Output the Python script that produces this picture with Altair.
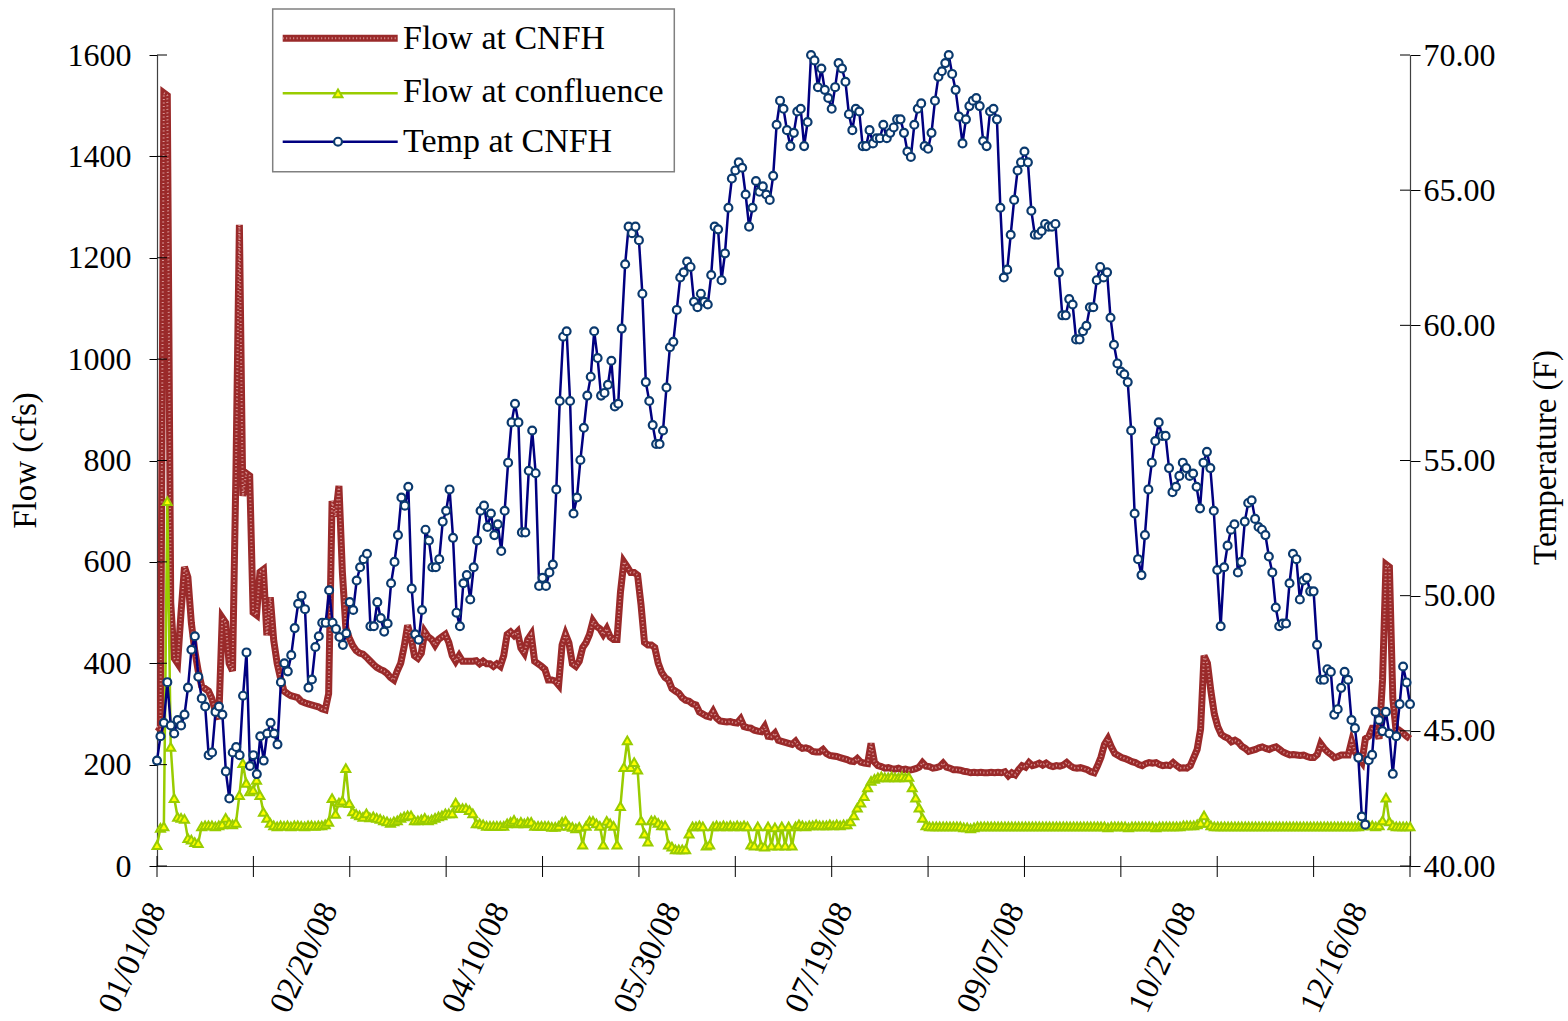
import altair as alt
import pandas as pd

# ---------------- data ----------------
flow_cnfh = [
    275, 270, 1525, 1520, 520, 410, 400, 500, 590, 570,
    480, 425, 385, 355, 350, 345, 330, 305, 290, 490,
    480, 400, 385, 780, 1265, 730, 775, 770, 500, 495,
    580, 585, 455, 530, 445, 400, 370, 345, 340, 336,
    334, 332, 325, 322, 320, 318, 316, 314, 310, 308,
    340, 720, 690, 750, 580, 470, 450, 435, 425, 420,
    418, 412, 405, 398, 392, 388, 385, 380, 372, 367,
    385, 400, 433, 475, 450, 415, 410, 420, 462, 452,
    447, 436, 447, 452, 457, 441, 415, 404, 415, 404,
    404, 404, 404, 405, 399, 404, 399, 399, 394, 399,
    394, 415, 457, 462, 455, 462, 430, 420, 447, 457,
    404, 399, 394, 388, 367, 367, 365, 357, 436, 457,
    440, 399, 394, 404, 431, 441, 457, 483, 473, 468,
    457, 468, 452, 447, 447, 540, 600, 590, 579, 579,
    574, 515, 441, 436, 436, 431, 400, 382, 372, 367,
    350, 345, 341, 332, 327, 325, 320, 318, 304, 300,
    296, 294, 305, 292, 286, 285, 284, 285, 283, 282,
    290, 275, 273, 272, 268, 266, 265, 275, 256, 255,
    262, 248, 246, 244, 242, 240, 246, 236, 232, 233,
    231, 226, 225, 225, 230, 222, 218, 217, 216, 214,
    212, 210, 207, 206, 212, 205, 203, 202, 242, 205,
    198, 196, 193, 194, 192, 191, 193, 190, 191, 189,
    190, 192, 195, 204, 197, 196, 193, 194, 196, 203,
    195, 193, 190, 190, 189, 187, 186, 184, 185, 184,
    185, 184, 184, 185, 184, 185, 184, 186, 178, 184,
    180, 190, 198, 195, 204, 198, 200, 203, 199, 203,
    198, 196, 198, 197, 199, 204, 198, 194, 193, 194,
    192, 190, 186, 184, 198, 215, 240, 251, 235, 222,
    218, 214, 212, 209, 206, 204, 200, 198, 202, 204,
    203, 204, 200, 198, 199, 198, 204, 198, 193, 194,
    193, 198, 214, 230, 270, 415, 400, 345, 300, 275,
    260, 255, 252, 245, 248, 244, 236, 232, 226, 228,
    230, 233, 235, 232, 230, 233, 235, 230, 225, 222,
    219, 220, 219, 218, 219, 216, 214, 214, 220, 241,
    232, 225, 220, 214, 216, 219, 219, 219, 246, 225,
    214, 205, 251, 256, 272, 272, 251, 367, 595, 590,
    330, 262, 267, 262, 256, 251,
]

flow_conf = [
    41, 75, 78, 720, 235, 134, 97, 95, 93, 55,
    52, 47, 45, 78, 80, 80, 80, 78, 80, 82,
    95, 85, 82, 85, 140, 203, 164, 147, 150, 170,
    140, 107, 95, 85, 80, 78, 80, 79, 80, 78,
    80, 80, 79, 78, 80, 80, 79, 80, 80, 82,
    87, 134, 103, 125, 129, 193, 124, 108, 103, 100,
    97, 104, 96, 98, 95, 93, 90, 88, 85, 88,
    90, 95, 98, 100, 100, 90, 90, 92, 95, 90,
    92, 95, 98, 100, 104, 104, 104, 125, 114, 114,
    114, 110, 104, 84, 84, 82, 79, 79, 79, 79,
    79, 79, 84, 87, 91, 84, 87, 84, 87, 87,
    79, 79, 79, 79, 79, 77, 77, 79, 87, 89,
    79, 77, 74, 77, 42, 79, 89, 89, 84, 79,
    42, 89, 84, 79, 42, 118, 195, 248, 195, 205,
    190, 90, 64, 48, 90, 90, 85, 80, 80, 42,
    38, 33, 33, 33, 33, 64, 78, 78, 80, 78,
    40, 42, 78, 80, 78, 80, 78, 80, 78, 80,
    78, 80, 78, 42, 40, 78, 40, 38, 78, 40,
    76, 40, 78, 40, 78, 40, 78, 82, 80, 78,
    80, 80, 82, 80, 80, 80, 82, 80, 82, 80,
    82, 82, 88, 100, 115, 125, 138, 155, 168, 172,
    175, 177, 175, 175, 177, 175, 175, 177, 175, 176,
    155, 135, 115, 95, 80, 78, 78, 78, 78, 78,
    78, 78, 78, 78, 78, 76, 76, 74, 76, 78,
    78, 78, 78, 78, 78, 78, 78, 78, 78, 78,
    78, 78, 78, 78, 78, 78, 78, 78, 78, 78,
    78, 78, 78, 78, 78, 78, 78, 78, 78, 78,
    78, 78, 78, 78, 78, 78, 78, 76, 78, 78,
    78, 78, 78, 76, 78, 78, 78, 78, 78, 78,
    78, 76, 78, 78, 78, 78, 78, 78, 78, 80,
    80, 80, 80, 82, 85, 100, 85, 80, 78, 78,
    78, 78, 78, 78, 78, 78, 78, 78, 78, 78,
    78, 78, 78, 78, 78, 78, 78, 78, 78, 78,
    78, 78, 78, 78, 78, 78, 78, 78, 78, 78,
    78, 78, 78, 78, 78, 78, 78, 78, 78, 78,
    78, 80, 82, 80, 80, 78, 80, 90, 135, 88,
    80, 78, 78, 78, 78, 78,
]

temp_cnfh = [
    # Jan - mid Feb
    43.9, 44.8, 45.3, 46.8, 45.2, 44.9, 45.4, 45.2, 45.6, 46.6,
    48.0, 48.5, 47.0, 46.2, 45.9, 44.1, 44.2, 45.7, 45.9, 45.6,
    43.5, 42.5, 44.2, 44.4, 44.1, 46.3, 47.9, 43.7, 44.1, 43.4,
    44.8, 43.9, 44.9, 45.3, 44.9, 44.5, 46.8, 47.5, 47.2, 47.8,
    48.8, 49.7, 50.0, 49.5, 46.6, 46.9, 48.1, 48.5, 49.0, 49.0,
    50.2, 49.0,
    # late Feb - early Apr
    48.77, 48.47, 48.18, 48.61, 49.76, 49.47, 50.56, 51.05, 51.35, 51.55,
    48.87, 48.87, 49.76, 49.17, 48.67, 48.97, 50.46, 51.25, 52.24, 53.63,
    53.33, 54.03, 50.26, 48.57, 48.37, 49.47, 52.44, 52.04, 51.05, 51.05,
    51.35, 52.74, 53.14, 53.93, 52.14, 49.37, 48.87, 50.46, 50.76, 49.86,
    51.05, 52.04, 53.14, 53.33, 52.54, 53.04, 52.24, 52.64, 51.65, 53.14,
    54.92, 56.41, 57.10, 56.41,
    # Apr - early Jun
    52.34, 52.34, 54.62, 56.11, 54.53, 50.36, 50.66, 50.36, 50.86, 51.15,
    53.93, 57.20, 59.58, 59.78, 57.20, 53.04, 53.63, 55.02, 56.21, 57.40,
    58.10, 59.78, 58.79, 57.40, 57.50, 57.80, 58.69, 57.00, 57.10, 59.88,
    62.26, 63.65, 63.41, 63.65, 63.15, 61.17, 57.90, 57.20, 56.31, 55.61,
    55.61, 56.11, 57.70, 59.19, 59.39, 60.57, 61.77, 61.96, 62.36, 62.16,
    60.87,
    # Jun - Jul
    60.67, 61.17, 60.87, 60.77, 61.86, 63.65, 63.55, 61.67, 62.66, 64.35,
    65.43, 65.73, 66.03, 65.83, 64.84, 63.65, 64.35, 65.34, 64.94, 65.14,
    64.84, 64.64, 65.53, 67.42, 68.31, 68.01, 67.22, 66.63, 67.12, 67.91,
    68.01, 66.63, 67.52, 70.00, 69.80, 68.81, 69.50, 68.71, 68.41, 68.01,
    68.81, 69.70, 69.50, 69.01, 67.81, 67.22, 68.01, 67.91, 66.63, 66.63,
    67.22, 66.73, 66.92,
    # Aug - mid Sep
    66.92, 67.42, 66.92, 67.12, 67.32, 67.62, 67.62, 67.12, 66.43, 66.23,
    67.42, 68.01, 68.21, 66.63, 66.53, 67.12, 68.31, 69.20, 69.40, 69.70,
    70.00, 69.30, 68.71, 67.72, 66.73, 67.62, 68.11, 68.31, 68.41, 68.11,
    66.82, 66.63, 67.91, 68.01, 67.62, 64.35, 61.77, 62.06, 63.35, 64.64,
    65.73, 66.03, 66.43, 66.03, 64.24, 63.35, 63.35, 63.49, 63.75, 63.65,
    63.65,
    # mid Sep - early Nov
    63.75, 61.96, 60.37, 60.37, 60.97, 60.77, 59.48, 59.48, 59.78, 59.98,
    60.67, 60.67, 61.67, 62.16, 61.77, 61.96, 60.28, 59.28, 58.59, 58.29,
    58.19, 57.90, 56.11, 53.04, 51.35, 50.76, 52.24, 53.93, 54.92, 55.72,
    56.41, 55.91, 55.91, 54.72, 53.83, 54.03, 54.43, 54.92, 54.72, 54.43,
    54.52, 54.03, 53.23, 54.92, 55.32, 54.72, 53.14, 50.95, 48.87, 51.05,
    51.85, 52.44,
    # Nov - Dec
    52.64, 50.86, 51.25, 52.74, 53.43, 53.53, 52.84, 52.54, 52.44, 52.24,
    51.45, 50.86, 49.56, 48.87, 48.97, 48.97, 50.46, 51.55, 51.35, 49.86,
    50.56, 50.66, 50.16, 50.16, 48.18, 46.89, 46.89, 47.28, 47.18, 45.60,
    45.80, 46.59, 47.18, 46.89, 45.40, 45.10, 44.01, 41.83, 41.53, 43.91,
    44.11, 45.70, 45.40, 44.99, 45.70, 44.90, 43.41, 44.80, 45.99, 47.38,
    46.79, 45.99,
]

label_days = [0, 50, 100, 150, 200, 250, 300, 350]
flow_ticks = [0, 200, 400, 600, 800, 1000, 1200, 1400, 1600]
temp_ticks = [40, 45, 50, 55, 60, 65, 70]
legend_labels = ["Flow at CNFH", "Flow at confluence", "Temp at CNFH"]

N_DAYS = 365
n_t = len(temp_cnfh)

flow_df = pd.DataFrame({
    "day": list(range(len(flow_cnfh))),
    "cnfh": flow_cnfh,
    "conf": flow_conf,
})
temp_df = pd.DataFrame({
    "day": [i * N_DAYS / (n_t - 1) for i in range(n_t)],
    "temp": temp_cnfh,
})
xtick_df = pd.DataFrame({"day": [k * N_DAYS / 13 for k in range(14)]})
flow_tick_df = pd.DataFrame({"cnfh": flow_ticks})
temp_tick_df = pd.DataFrame({"temp": temp_ticks})

# ---------------- style ----------------
FONT = "Liberation Serif"
W, H = 1253, 811
RED = "#9A2A2A"
RED_LIGHT = "#E3AAAA"
GREEN = "#99CC00"
YELLOW = "#FFFF00"
NAVY = "#000080"
CIRC = "#0B3A6E"

x_enc = alt.X(
    "day:Q",
    scale=alt.Scale(domain=[0, N_DAYS], nice=False, zero=False),
    axis=alt.Axis(
        values=label_days,
        labelExpr="timeFormat(datetime(2008, 0, 1 + datum.value), '%m/%d/%y')",
        labelAngle=295,
        labelAlign="right",
        labelBaseline="middle",
        labelFont=FONT,
        labelFontSize=33,
        labelColor="#000",
        labelPadding=38,
        ticks=False,
        tickSize=0,
        domainColor="#404040",
        domainWidth=1.2,
        grid=False,
        title=None,
        labelOverlap=False,
    ),
)

flow_scale = alt.Scale(domain=[0, 1600], nice=False, zero=True)
temp_scale = alt.Scale(domain=[40, 70], nice=False, zero=False)

flow_axis = alt.Axis(
    values=flow_ticks,
    format="d",
    title="Flow (cfs)",
    titleFont=FONT,
    titleFontSize=33,
    titleFontWeight="normal",
    titleColor="#000",
    titleAngle=270,
    titleAlign="center",
    titleBaseline="middle",
    titleX=-132,
    titleY=405,
    labelFont=FONT,
    labelFontSize=32,
    labelColor="#000",
    labelPadding=18,
    tickSize=8,
    tickColor="#000",
    domainColor="#404040",
    domainWidth=1.2,
    grid=False,
)
temp_axis = alt.Axis(
    orient="right",
    values=temp_ticks,
    format=".2f",
    title="Temperature (F)",
    titleFont=FONT,
    titleFontSize=33,
    titleFontWeight="normal",
    titleColor="#000",
    titleAngle=270,
    titleAlign="center",
    titleBaseline="middle",
    titleX=135,
    titleY=402,
    labelFont=FONT,
    labelFontSize=32,
    labelColor="#000",
    labelPadding=3,
    tickSize=10,
    tickColor="#000",
    domainColor="#404040",
    domainWidth=1.2,
    grid=False,
)

y_flow = alt.Y("cnfh:Q", scale=flow_scale, axis=flow_axis)
y_conf = alt.Y("conf:Q", scale=flow_scale, axis=flow_axis)
y_temp = alt.Y("temp:Q", scale=temp_scale, axis=temp_axis)

base_flow = alt.Chart(flow_df)

red_line = base_flow.mark_line(color=RED, strokeWidth=7, strokeJoin="miter").encode(x=x_enc, y=y_flow)
red_tex = base_flow.mark_line(color=RED_LIGHT, strokeWidth=2, strokeDash=[1, 2.5], opacity=0.85).encode(x=x_enc, y=y_flow)
green_line = base_flow.mark_line(color=GREEN, strokeWidth=2.5).encode(x=x_enc, y=y_conf)
green_pts = base_flow.mark_point(
    shape="triangle-up", filled=True, fill=YELLOW, stroke=GREEN, strokeWidth=2, size=80, opacity=1
).encode(x=x_enc, y=y_conf)
left_inner = alt.Chart(flow_tick_df).mark_rule(color="#000", strokeWidth=1).encode(
    y=y_flow, x=alt.value(0), x2=alt.value(10)
)

flows = alt.layer(red_line, red_tex, green_line, green_pts, left_inner)

base_temp = alt.Chart(temp_df)
blue_line = base_temp.mark_line(color=NAVY, strokeWidth=2.5).encode(x=x_enc, y=y_temp)
blue_pts = base_temp.mark_point(
    shape="circle", filled=True, fill="white", stroke=CIRC, strokeWidth=2.2, size=62, opacity=1
).encode(x=x_enc, y=y_temp)
right_inner = alt.Chart(temp_tick_df).mark_rule(color="#000", strokeWidth=1).encode(
    y=y_temp, x=alt.value(W - 10), x2=alt.value(W)
)
temps = alt.layer(blue_line, blue_pts, right_inner)

xticks = alt.Chart(xtick_df).mark_rule(color="#000", strokeWidth=1).encode(
    x=x_enc, y=alt.value(H - 10), y2=alt.value(H + 11)
)

# ---------------- manual legend ----------------
one = pd.DataFrame({"k": [0]})
LX0, LX1 = 125.7, 240.7
MX = 181
ys_line = [-16.7, 38.3, 86.7]
ys_text = [-5.7, 46.7, 96.7]

leg_box = alt.Chart(one).mark_rect(fill="white", stroke="#808080", strokeWidth=1.5).encode(
    x=alt.value(115.7), x2=alt.value(517.3), y=alt.value(-46), y2=alt.value(116.7)
)
leg_red = alt.Chart(one).mark_rule(color=RED, strokeWidth=7).encode(
    x=alt.value(LX0), x2=alt.value(LX1), y=alt.value(ys_line[0])
)
leg_red_tex = alt.Chart(one).mark_rule(color=RED_LIGHT, strokeWidth=2, strokeDash=[1, 2.5], opacity=0.85).encode(
    x=alt.value(LX0), x2=alt.value(LX1), y=alt.value(ys_line[0])
)
leg_green = alt.Chart(one).mark_rule(color=GREEN, strokeWidth=2.5).encode(
    x=alt.value(LX0), x2=alt.value(LX1), y=alt.value(ys_line[1])
)
leg_green_pt = alt.Chart(one).mark_point(
    shape="triangle-up", filled=True, fill=YELLOW, stroke=GREEN, strokeWidth=2, size=80, opacity=1
).encode(x=alt.value(MX), y=alt.value(ys_line[1]))
leg_blue = alt.Chart(one).mark_rule(color=NAVY, strokeWidth=2.5).encode(
    x=alt.value(LX0), x2=alt.value(LX1), y=alt.value(ys_line[2])
)
leg_blue_pt = alt.Chart(one).mark_point(
    shape="circle", filled=True, fill="white", stroke=CIRC, strokeWidth=2.2, size=62, opacity=1
).encode(x=alt.value(MX), y=alt.value(ys_line[2]))

leg_texts = []
for lab, yy in zip(legend_labels, ys_text):
    leg_texts.append(
        alt.Chart(pd.DataFrame({"label": [lab]})).mark_text(
            font=FONT, fontSize=34, align="left", baseline="alphabetic", color="#000"
        ).encode(x=alt.value(246), y=alt.value(yy), text="label:N")
    )

chart = alt.layer(
    flows, temps, xticks,
    leg_box, leg_red, leg_red_tex, leg_green, leg_green_pt, leg_blue, leg_blue_pt, *leg_texts,
).resolve_scale(y="independent").properties(
    width=W,
    height=H,
    autosize=alt.AutoSizeParams(type="none"),
    padding={"left": 157, "top": 55, "right": 158, "bottom": 155},
    background="white",
).configure_view(stroke=None)

chart.save("out.html", embed_options={"renderer": "svg", "actions": False})
